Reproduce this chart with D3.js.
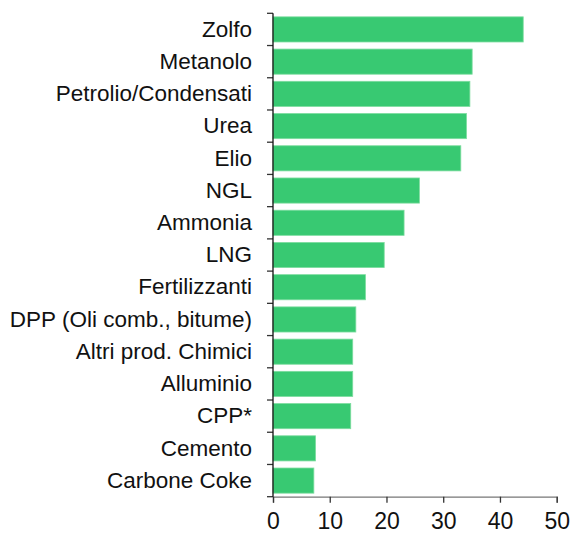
<!DOCTYPE html>
<html>
<head>
<meta charset="utf-8">
<script src="https://cdn.jsdelivr.net/npm/d3@7"></script>
<style>
  body { margin: 0; background: #fff; }
  text { font-family: "Liberation Sans", Arial, sans-serif; fill: #111; }
</style>
</head>
<body>
<div id="chart"></div>
<script>
// data
const categories = ["Zolfo", "Metanolo", "Petrolio/Condensati", "Urea", "Elio", "NGL", "Ammonia", "LNG",
  "Fertilizzanti", "DPP (Oli comb., bitume)", "Altri prod. Chimici", "Alluminio", "CPP*", "Cemento", "Carbone Coke"];
const values = [44.1, 35.1, 34.7, 34.1, 33.1, 25.8, 23.1, 19.6, 16.3, 14.6, 14.05, 14.05, 13.7, 7.5, 7.2];
const xTicks = [0, 10, 20, 30, 40, 50];

const width = 573, height = 534;
const margin = { top: 13.3, right: 16.3, bottom: 37.3, left: 273 };
const innerW = width - margin.left - margin.right;
const innerH = height - margin.top - margin.bottom;

const svg = d3.select("#chart").append("svg")
  .attr("width", width)
  .attr("height", height);

const g = svg.append("g")
  .attr("transform", `translate(${margin.left},${margin.top})`);

const x = d3.scaleLinear().domain([0, 50]).range([0, innerW]);
const y = d3.scaleBand().domain(categories).range([0, innerH]).paddingInner(0.22).paddingOuter(0.11);

// bars
g.append("g")
  .selectAll("rect")
  .data(categories)
  .enter().append("rect")
  .attr("x", 0)
  .attr("y", d => y(d))
  .attr("width", (d, i) => x(values[i]))
  .attr("height", y.bandwidth())
  .attr("fill", "#38c972")
  .attr("stroke", "#7ddc9f")
  .attr("stroke-width", 0.8);

// x axis
const xAxis = g.append("g")
  .attr("transform", `translate(0,${innerH})`)
  .call(d3.axisBottom(x).tickValues(xTicks).tickSize(6).tickPadding(10).tickFormat(d3.format("d")));
xAxis.select(".domain").attr("stroke", "#777").attr("stroke-width", 1.3);
xAxis.selectAll(".tick line").attr("stroke", "#333").attr("stroke-width", 1.3);
xAxis.selectAll("text").style("font-size", "23px").attr("fill", "#111");

// y axis: labels on band centres, ticks on band boundaries
const yAxis = g.append("g")
  .call(d3.axisLeft(y).tickSize(0).tickPadding(21));
yAxis.select(".domain").remove();
yAxis.selectAll("text").style("font-size", "22.5px").attr("fill", "#111");

const bounds = d3.range(categories.length + 1).map(i => i * innerH / categories.length);
g.append("g")
  .selectAll("line")
  .data(bounds)
  .enter().append("line")
  .attr("x1", -6).attr("x2", 0)
  .attr("y1", d => d).attr("y2", d => d)
  .attr("stroke", "#333")
  .attr("stroke-width", 1.3);

g.append("line")
  .attr("x1", 0).attr("x2", 0)
  .attr("y1", 0).attr("y2", innerH)
  .attr("stroke", "#111")
  .attr("stroke-width", 1.3);
</script>
</body>
</html>
